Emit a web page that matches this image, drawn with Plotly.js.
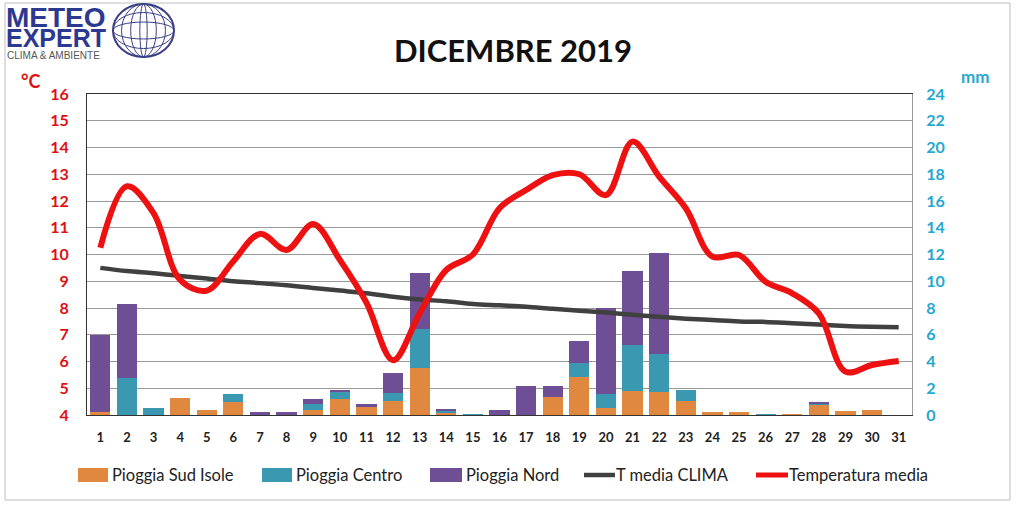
<!DOCTYPE html>
<html>
<head>
<meta charset="utf-8">
<script src="https://cdn.plot.ly/plotly-3.0.1.min.js"></script>
<style>html,body{margin:0;padding:0;background:#fff;}#chart{width:1017px;height:510px;}</style>
</head>
<body>
<div id="chart"></div>
<script>
const days = [1,2,3,4,5,6,7,8,9,10,11,12,13,14,15,16,17,18,19,20,21,22,23,24,25,26,27,28,29,30,31];
const rainSud    = [0.25,0,0,1.25,0.37,1.0,0,0,0.4,1.17,0.57,1.05,3.54,0.15,0,0,0,1.37,2.87,0.5,1.8,1.72,1.07,0.2,0.2,0,0.1,0.75,0.3,0.37,0];
const rainCentro = [0,2.8,0.55,0,0,0.6,0,0,0.45,0.57,0,0.62,2.86,0.15,0.1,0,0,0,1.0,1.05,3.44,2.84,0.8,0,0,0.1,0,0.1,0,0,0];
const rainNord   = [5.7,5.5,0,0.05,0,0,0.2,0.2,0.35,0.13,0.25,1.45,4.24,0.12,0,0.37,2.17,0.8,1.67,6.42,5.49,7.58,0,0,0,0,0,0.15,0,0,0];
const tClima = [9.5,9.38,9.3,9.2,9.1,9.0,8.93,8.85,8.75,8.65,8.55,8.42,8.32,8.25,8.15,8.1,8.05,7.97,7.9,7.83,7.75,7.67,7.6,7.55,7.5,7.48,7.43,7.38,7.33,7.3,7.28];
const tMedia = [10.25,12.55,11.55,9.05,8.65,9.75,10.77,10.17,11.14,9.8,8.2,6.05,7.8,9.42,10.0,11.73,12.41,12.97,13.0,12.22,14.22,12.91,11.73,9.92,9.98,8.98,8.55,7.8,5.62,5.87,6.02];
const seriesNames = ['Pioggia Sud Isole','Pioggia Centro','Pioggia Nord','T media CLIMA','Temperatura media'];
const seriesColors = ['#e0883f','#3a98b1','#6e4f96','#404040','#ee1111'];
const chartTitle = 'DICEMBRE 2019';

// pixel -> paper helpers (plot area: x 87..912, y 94..415)
const L=87, R=912, T=94, B=415;
const px = v => (v-L)/(R-L);
const py = v => (B-v)/(B-T);

const barWidth = 0.76;
const traces = [
  {type:'bar', x:days, y:rainSud, name:seriesNames[0], marker:{color:seriesColors[0]}, width:barWidth, yaxis:'y'},
  {type:'bar', x:days, y:rainCentro, name:seriesNames[1], marker:{color:seriesColors[1]}, width:barWidth, yaxis:'y'},
  {type:'bar', x:days, y:rainNord, name:seriesNames[2], marker:{color:seriesColors[2]}, width:barWidth, yaxis:'y'},
  {type:'scatter', mode:'lines', x:days, y:tClima, name:seriesNames[3], line:{color:seriesColors[3], width:4.5, shape:'spline'}, yaxis:'y2'},
  {type:'scatter', mode:'lines', x:days, y:tMedia, name:seriesNames[4], line:{color:seriesColors[4], width:6, shape:'spline', smoothing:1}, yaxis:'y2'}
];

// logo globe
const globe = [];
const gx0=113, gx1=174, gy0=4, gy1=57, gcx=(gx0+gx1)/2, gcy=(gy0+gy1)/2;
const gcol = '#3a3f86';
globe.push({type:'circle', xref:'paper', yref:'paper', x0:px(gx0), x1:px(gx1), y0:py(gy1), y1:py(gy0), line:{color:gcol,width:2}, layer:'below'});
[0.72,0.42,0.12].forEach(f=>{
  const w=(gx1-gx0)/2*f;
  globe.push({type:'circle', xref:'paper', yref:'paper', x0:px(gcx-w), x1:px(gcx+w), y0:py(gy1), y1:py(gy0), line:{color:gcol,width:1}, layer:'below'});
});
[0.68,0.32].forEach(f=>{
  const h=(gy1-gy0)/2*f;
  globe.push({type:'circle', xref:'paper', yref:'paper', x0:px(gx0), x1:px(gx1), y0:py(gcy+h), y1:py(gcy-h), line:{color:gcol,width:1}, layer:'below'});
});

// custom legend (positions in pixels)
const legY = 475;
const legItems = [
  {sym:'box', x0:78, x1:108, tx:111},
  {sym:'box', x0:262, x1:292, tx:295},
  {sym:'box', x0:430, x1:462, tx:465},
  {sym:'line', x0:584, x1:615, tx:615},
  {sym:'line', x0:756, x1:788, tx:788}
];
const legShapes = [], legAnn = [];
legItems.forEach((it,i)=>{
  if(it.sym==='box'){
    legShapes.push({type:'rect', xref:'paper', yref:'paper', x0:px(it.x0), x1:px(it.x1), y0:py(legY+7), y1:py(legY-7), fillcolor:seriesColors[i], line:{width:0}});
  } else {
    legShapes.push({type:'line', xref:'paper', yref:'paper', x0:px(it.x0), x1:px(it.x1), y0:py(legY), y1:py(legY), line:{color:seriesColors[i], width:i===4?5:4.5}});
  }
  legAnn.push({xref:'paper', yref:'paper', x:px(it.tx), y:py(legY), text:seriesNames[i], showarrow:false, xanchor:'left', yanchor:'middle',
    font:{size:16.5, color:'#222', family:'Lato, "Open Sans", sans-serif'}, borderpad:0});
});

const layout = {
  width:1017, height:510,
  margin:{l:L, r:1017-R, t:T, b:510-B},
  paper_bgcolor:'#fff', plot_bgcolor:'#fff',
  barmode:'stack',
  showlegend:false,
  title:{text:chartTitle, x:513/1017, xanchor:'center', y:1-51/510, yanchor:'middle', yref:'container',
         font:{family:'Lato, "Open Sans", sans-serif', size:31, color:'#111', weight:'bold'}},
  font:{family:'Lato, "Open Sans", sans-serif'},
  xaxis:{range:[0.5,31.5], tickvals:days, ticktext:days.map(String), showgrid:false, zeroline:false,
         showline:true, linecolor:'#333', linewidth:1, mirror:true, ticks:'', ticklabelstandoff:10,
         tickfont:{size:13, color:'#222', weight:'bold'}, fixedrange:true},
  yaxis:{side:'right', range:[0,24], dtick:2, showgrid:true, gridcolor:'#9a9a9a', gridwidth:1, zeroline:false,
         showline:true, linecolor:'#999', ticks:'', tickfont:{size:16, color:'#25a8d0', weight:'bold'}, ticklabelstandoff:10},
  yaxis2:{side:'left', overlaying:'y', range:[4,16], dtick:1, showgrid:false, zeroline:false,
          showline:true, linecolor:'#333', ticks:'', tickfont:{size:16, color:'#e01010', weight:'bold'}, ticklabelstandoff:14},
  shapes:[
    {type:'rect', xref:'paper', yref:'paper', x0:px(5), x1:px(1010), y0:py(500), y1:py(3), line:{color:'#bdbdbd', width:1}, layer:'below'}
  ].concat(globe, legShapes),
  annotations:[
    {xref:'paper', yref:'paper', x:px(30), y:py(81), text:'°C', showarrow:false, font:{size:18, color:'#e01010', weight:'bold'}, xanchor:'center', yanchor:'middle'},
    {xref:'paper', yref:'paper', x:px(975), y:py(76), text:'mm', showarrow:false, font:{size:17, color:'#25a8d0', weight:'bold'}, xanchor:'center', yanchor:'middle'},
    {xref:'paper', yref:'paper', x:px(5), y:py(17), text:'METEO', showarrow:false, xanchor:'left', yanchor:'middle', borderpad:0,
     font:{family:'"Liberation Sans", Arial, sans-serif', size:28, color:'#2b3990', weight:'bold'}},
    {xref:'paper', yref:'paper', x:px(5), y:py(38), text:'EXPERT', showarrow:false, xanchor:'left', yanchor:'middle', borderpad:0,
     font:{family:'"Liberation Sans", Arial, sans-serif', size:25, color:'#2b3990', weight:'bold'}},
    {xref:'paper', yref:'paper', x:px(6), y:py(55), text:'CLIMA & AMBIENTE', showarrow:false, xanchor:'left', yanchor:'middle', borderpad:0,
     font:{family:'"Liberation Sans", Arial, sans-serif', size:10, color:'#555'}}
  ].concat(legAnn)
};

Plotly.newPlot('chart', traces, layout, {displayModeBar:false, staticPlot:true});
</script>
</body>
</html>
